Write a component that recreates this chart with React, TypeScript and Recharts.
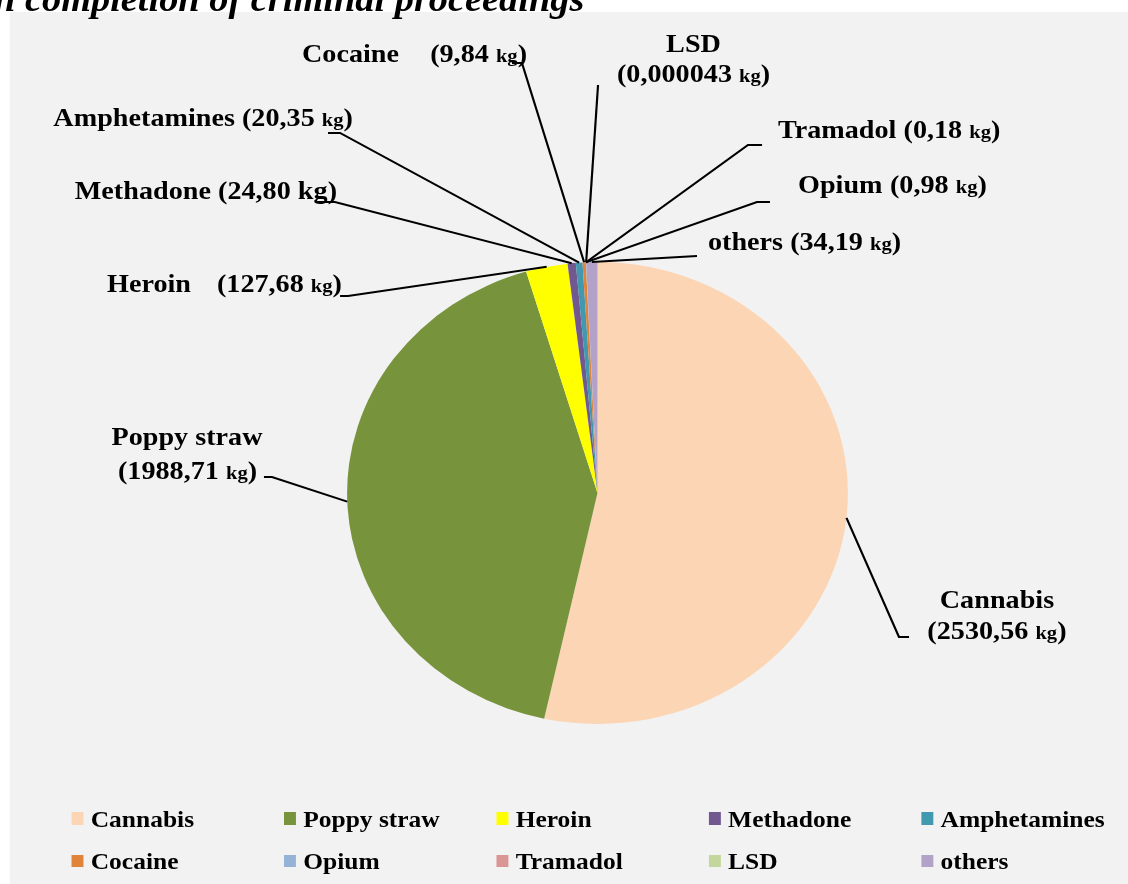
import { Cell, Legend, Pie, PieChart } from 'recharts'

const drugs = ['Cannabis', 'Poppy straw', 'Heroin', 'Methadone', 'Amphetamines', 'Cocaine', 'Opium', 'Tramadol', 'LSD', 'others']
const weightsKg = [2530.56, 1988.71, 127.68, 24.8, 20.35, 9.84, 0.98, 0.18, 0.000043, 34.19]
const weightLabels = ['2530,56', '1988,71', '127,68', '24,80', '20,35', '9,84', '0,98', '0,18', '0,000043', '34,19']
const colors = ['#FCD5B5', '#77933C', '#FFFF00', '#71588F', '#4198AF', '#E0843A', '#95B3D7', '#D99694', '#C3D69B', '#B3A2C7']

const data = drugs.map((name, i) => ({ name, value: weightsKg[i] }))

// the source picture is stretched horizontally, so the whole chart is drawn narrower and scaled in x
const K = 1.084
const W = Math.round(1128 / K)
const FONT = "'Liberation Serif', 'Times New Roman', serif"

type Anchor = 'start' | 'middle' | 'end'
interface LabelLayout {
  elbow: [number, number]
  end: [number, number]
  name: [number, number, Anchor]
  value?: [number, number, Anchor]
  bigKg?: boolean
}

// label placement, in unscaled chart coordinates
const labelLayout: LabelLayout[] = [
  { elbow: [829.3, 637], end: [838.6, 637], name: [919.7, 608, 'middle'], value: [919.7, 639, 'middle'] },
  { elbow: [250.9, 477], end: [243.5, 477], name: [172.5, 445, 'middle'], value: [173, 479, 'middle'] },
  { elbow: [321, 296], end: [313.7, 296], name: [98.7, 292, 'start'], value: [315.5, 292, 'end'] },
  { elbow: [309, 202], end: [292.4, 202], name: [310.9, 199, 'end'], bigKg: true },
  { elbow: [313.7, 133], end: [302.6, 133], name: [325.6, 126, 'end'] },
  { elbow: [481.5, 63], end: [472.3, 63], name: [278.6, 62, 'start'], value: [486.2, 62, 'end'] },
  { elbow: [698.3, 202], end: [710.3, 202], name: [736.2, 193, 'start'], value: [821, 193, 'start'] },
  { elbow: [690, 145], end: [703, 145], name: [717.7, 138, 'start'] },
  { elbow: [551.7, 85], end: [551.7, 85], name: [639.8, 52, 'middle'], value: [639.8, 82, 'middle'] },
  { elbow: [643, 256], end: [643, 256], name: [653.1, 250, 'start'] }
]

const RADIAN = Math.PI / 180

function ValueText({ index, x, y, anchor, prefix }: { index: number; x: number; y: number; anchor: Anchor; prefix?: string }) {
  const big = labelLayout[index].bigKg
  return (
    <text x={x} y={y} textAnchor={anchor} fontFamily={FONT} fontWeight={700} fontSize={26} fill="#000">
      {prefix}({weightLabels[index]} <tspan fontSize={big ? 26 : 19}>kg</tspan>)
    </text>
  )
}

function renderLabel(props: any) {
  const { cx, cy, midAngle, outerRadius, index } = props
  const lay = labelLayout[index]
  const sx = cx + outerRadius * Math.cos(-midAngle * RADIAN)
  const sy = cy + outerRadius * Math.sin(-midAngle * RADIAN)
  const [nx, ny, na] = lay.name
  return (
    <g>
      <polyline
        points={`${sx},${sy} ${lay.elbow[0]},${lay.elbow[1]} ${lay.end[0]},${lay.end[1]}`}
        fill="none"
        stroke="#000"
        strokeWidth={2}
      />
      {lay.value ? (
        <>
          <text x={nx} y={ny} textAnchor={na} fontFamily={FONT} fontWeight={700} fontSize={26} fill="#000">
            {drugs[index]}
          </text>
          <ValueText index={index} x={lay.value[0]} y={lay.value[1]} anchor={lay.value[2]} />
        </>
      ) : (
        <ValueText index={index} x={nx} y={ny} anchor={na} prefix={drugs[index] + ' '} />
      )}
    </g>
  )
}

// legend keeps the data order (Recharts sorts its payload by name)
function LegendGrid() {
  return (
    <div
      style={{
        display: 'grid',
        gridTemplateColumns: 'repeat(5, 196px)',
        gridAutoRows: '42.5px',
        paddingLeft: 66.4,
        fontFamily: FONT,
        fontWeight: 700,
        fontSize: 23.5,
        lineHeight: '24px',
        color: '#000'
      }}
    >
      {drugs.map((d, i) => (
        <div key={d} style={{ display: 'flex', alignItems: 'flex-start', whiteSpace: 'nowrap' }}>
          <div style={{ width: 11, height: 12.5, marginTop: 5.5, background: colors[i], flex: 'none' }} />
          <span style={{ marginLeft: 6.3 }}>{d}</span>
        </div>
      ))}
    </div>
  )
}

export default function App() {
  return (
    <div style={{ position: 'absolute', left: 0, top: 0, width: 1128, height: 884, overflow: 'hidden', background: '#fff' }}>
      <div style={{ position: 'absolute', left: 0, top: 0, width: W, height: 884, transform: `scaleX(${K})`, transformOrigin: '0 0' }}>
        <div style={{ position: 'absolute', left: 8.9, top: 12, width: W - 8.9, height: 872, background: '#F2F2F2' }} />
        <div
          style={{
            position: 'absolute',
            left: -60.6,
            top: -21.5,
            whiteSpace: 'nowrap',
            fontFamily: FONT,
            fontWeight: 700,
            fontStyle: 'italic',
            fontSize: 35.4,
            lineHeight: '40px',
            color: '#000'
          }}
        >
          upon completion of criminal proceedings
        </div>
        <div style={{ position: 'absolute', left: 0, top: 0 }}>
          <PieChart width={W} height={884} margin={{ top: 0, right: 0, bottom: 0, left: 0 }}>
            <Pie
              data={data}
              dataKey="value"
              nameKey="name"
              cx={551.2}
              cy={493}
              outerRadius={231}
              startAngle={90}
              endAngle={-270}
              stroke="none"
              label={renderLabel}
              labelLine={false}
              isAnimationActive={false}
            >
              {data.map((d, i) => (
                <Cell key={d.name} fill={colors[i]} />
              ))}
            </Pie>
            <Legend
              verticalAlign="bottom"
              content={<LegendGrid />}
              wrapperStyle={{ left: 0, top: 806.5, width: W }}
            />
          </PieChart>
        </div>
      </div>
    </div>
  )
}
